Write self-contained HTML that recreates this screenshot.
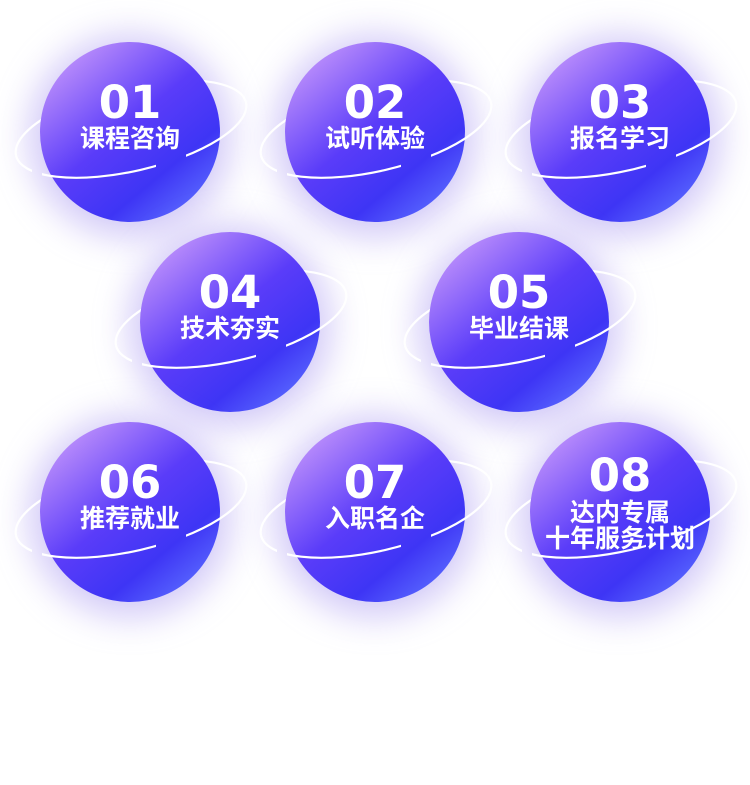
<!DOCTYPE html>
<html><head><meta charset="utf-8">
<style>
html,body{margin:0;padding:0;background:#fff;}
svg{display:block;}
.num{font-family:"DejaVu Sans","Liberation Sans",sans-serif;font-weight:bold;font-size:45px;fill:#fff;text-anchor:middle;letter-spacing:0px;}
.lab{font-family:"Liberation Sans","Noto Sans CJK SC",sans-serif;font-size:25px;fill:#fff;text-anchor:middle;font-weight:bold;}
</style></head><body>
<svg width="750" height="785" viewBox="0 0 750 785" xmlns="http://www.w3.org/2000/svg">
<defs>
<linearGradient id="g" x1="0.15" y1="0.1" x2="0.85" y2="0.95">
<stop offset="0" stop-color="#b98cfb"/>
<stop offset="0.45" stop-color="#5a3cf9"/>
<stop offset="0.75" stop-color="#3e35f5"/>
<stop offset="1" stop-color="#5a6aff"/>
</linearGradient>
<filter id="glow" x="-60%" y="-60%" width="220%" height="220%">
<feGaussianBlur stdDeviation="18"/>
</filter>
<mask id="m" maskUnits="userSpaceOnUse" x="-200" y="-200" width="400" height="400">
<rect x="-200" y="-200" width="400" height="400" fill="#fff"/>
<rect x="26" y="5" width="30" height="30" fill="#000"/>
<rect x="-98" y="25" width="10" height="20" fill="#000"/>
</mask>
<g id="back">
<circle cx="0" cy="4" r="100" fill="#a08ef0" opacity="0.5" filter="url(#glow)"/>
<g transform="translate(1,-3) rotate(-13)">
<path d="M -118 0 A 118 42 0 0 1 118 0" fill="none" stroke="#fff" stroke-width="2.2"/>
</g>
<circle cx="0" cy="0" r="90" fill="url(#g)"/>
</g>
<g id="front">
<g mask="url(#m)">
<g transform="translate(1,-3) rotate(-13)">
<path d="M -118 0 A 118 42 0 0 0 118 0" fill="none" stroke="#fff" stroke-width="2.2"/>
</g>
</g>
</g>
</defs>

<g transform="translate(130,132)"><use href="#back"/><use href="#front"/>
<text class="num" x="0" y="-14">01</text><text class="lab" x="0" y="15">课程咨询</text></g>
<g transform="translate(375,132)"><use href="#back"/><use href="#front"/>
<text class="num" x="0" y="-14">02</text><text class="lab" x="0" y="15">试听体验</text></g>
<g transform="translate(620,132)"><use href="#back"/><use href="#front"/>
<text class="num" x="0" y="-14">03</text><text class="lab" x="0" y="15">报名学习</text></g>

<g transform="translate(230,322)"><use href="#back"/><use href="#front"/>
<text class="num" x="0" y="-14">04</text><text class="lab" x="0" y="15">技术夯实</text></g>
<g transform="translate(519,322)"><use href="#back"/><use href="#front"/>
<text class="num" x="0" y="-14">05</text><text class="lab" x="0" y="15">毕业结课</text></g>

<g transform="translate(130,512)"><use href="#back"/><use href="#front"/>
<text class="num" x="0" y="-14">06</text><text class="lab" x="0" y="15">推荐就业</text></g>
<g transform="translate(375,512)"><use href="#back"/><use href="#front"/>
<text class="num" x="0" y="-14">07</text><text class="lab" x="0" y="15">入职名企</text></g>
<g transform="translate(620,512)"><use href="#back"/><use href="#front"/>
<text class="num" x="0" y="-21">08</text><text class="lab" x="0" y="9">达内专属</text><text class="lab" x="0" y="35">十年服务计划</text></g>
</svg>
</body></html>
